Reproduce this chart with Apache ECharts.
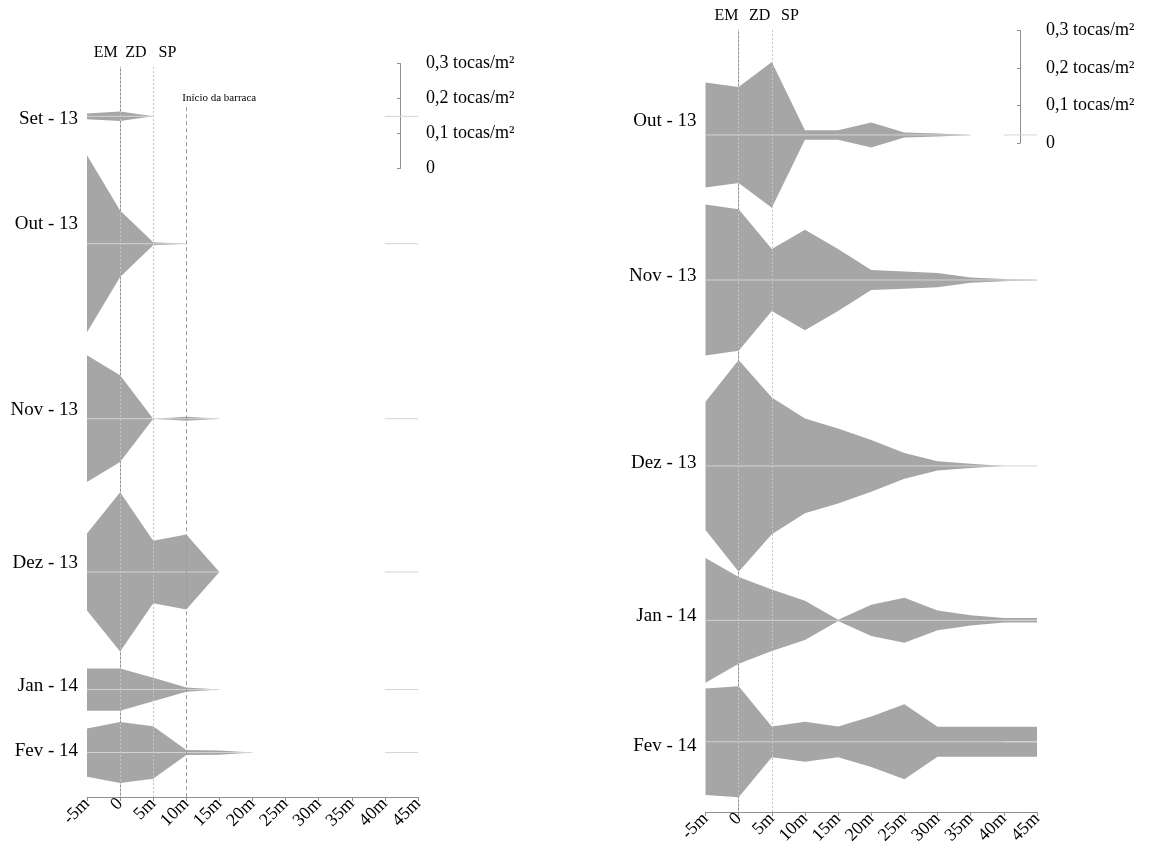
<!DOCTYPE html>
<html>
<head>
<meta charset="utf-8">
<script src="https://cdn.jsdelivr.net/npm/echarts@6/dist/echarts.min.js"></script>
<style>html,body{margin:0;padding:0;background:#fff;}#c{width:1153px;height:847px;}</style>
</head>
<body>
<div id="c"></div>
<script>
// ---------- DATA ----------
const distances = [-5, 0, 5, 10, 15, 20, 25, 30, 35, 40, 45];
const zoneLabels = ['EM', 'ZD', 'SP'];
const scaleTicks = [0, 0.1, 0.2, 0.3];
const barracaLabel = 'Início da barraca';
const barracaStart = 10;

// Left panel (Set-13 .. Fev-14), density width in tocas/m2 at each distance
const leftMonths = ['Set - 13', 'Out - 13', 'Nov - 13', 'Dez - 13', 'Jan - 14', 'Fev - 14'];
const leftSet13 = [0.016, 0.027, 0, 0, 0, 0, 0, 0, 0, 0, 0];
const leftOut13 = [0.506, 0.190, 0.009, 0, 0, 0, 0, 0, 0, 0, 0];
const leftNov13 = [0.362, 0.248, 0, 0.011, 0, 0, 0, 0, 0, 0, 0];
const leftDez13 = [0.220, 0.455, 0.179, 0.214, 0, 0, 0, 0, 0, 0, 0];
const leftJan14 = [0.121, 0.121, 0.067, 0.012, 0, 0, 0, 0, 0, 0, 0];
const leftFev14 = [0.138, 0.174, 0.150, 0.014, 0.012, 0, 0, 0, 0, 0, 0];

// Right panel (Out-13 .. Fev-14)
const rightMonths = ['Out - 13', 'Nov - 13', 'Dez - 13', 'Jan - 14', 'Fev - 14'];
const rightOut13 = [0.280, 0.256, 0.389, 0.025, 0.025, 0.067, 0.013, 0.008, 0, 0, 0];
const rightNov13 = [0.403, 0.378, 0.166, 0.268, 0.165, 0.053, 0.046, 0.038, 0.014, 0.006, 0];
const rightDez13 = [0.342, 0.565, 0.365, 0.253, 0.200, 0.138, 0.069, 0.025, 0.011, 0, 0];
const rightJan14 = [0.333, 0.231, 0.164, 0.105, 0.003, 0.083, 0.120, 0.053, 0.027, 0.012, 0.012];
const rightFev14 = [0.284, 0.296, 0.082, 0.107, 0.082, 0.135, 0.200, 0.080, 0.080, 0.080, 0.080];

// ---------- LAYOUT ----------
const Y_MAX = 2.086;
const leftBase = [1.945, 1.581, 1.081, 0.643, 0.307, 0.127];
const leftLabelPos = [1.936, 1.636, 1.107, 0.669, 0.316, 0.131];
const rightBase = [1.806, 1.419, 0.923, 0.511, 0.187];
const rightLabelPos = [1.844, 1.430, 0.932, 0.523, 0.175];
const leftZonePos = [-2.16, 2.4, 7.16];
const rightZonePos = [-1.83, 3.17, 7.74];
const barracaTop = 1.971;

const G = [
  {left: 87, top: 67, width: 331, height: 730},
  {left: 705.5, top: 30, width: 331.5, height: 782}
];
const LEG = [
  {right: 410, top: 63.5},
  {right: 1030, top: 30.7}
];

const FONT = '"Liberation Serif", "Times New Roman", "DejaVu Serif", serif';
const KITE = '#a6a6a6';
const BASE = '#d4d4d4';
const AXIS = '#8f8f8f';

const leftValues = [leftSet13, leftOut13, leftNov13, leftDez13, leftJan14, leftFev14];
const rightValues = [rightOut13, rightNov13, rightDez13, rightJan14, rightFev14];

function makeRender(values, bases) {
  return function (params, api) {
    const i = params.dataIndex;
    const v = values[i], b = bases[i];
    const top = distances.map((d, k) => api.coord([d, b + v[k] / 2]));
    const bot = distances.map((d, k) => api.coord([d, b - v[k] / 2])).reverse();
    const children = [{type: 'polygon', shape: {points: top.concat(bot)}, style: {fill: KITE}}];
    let last = -1;
    v.forEach((x, k) => { if (x > 0) last = k; });
    const endIdx = Math.min(last + 1, distances.length - 1);
    const p0 = api.coord([distances[0], b]), p1 = api.coord([distances[endIdx], b]);
    children.push({type: 'line', shape: {x1: p0[0], y1: p0[1], x2: p1[0], y2: p1[1]}, style: {stroke: BASE, lineWidth: 1}});
    const q0 = api.coord([distances[distances.length - 2], b]), q1 = api.coord([distances[distances.length - 1], b]);
    children.push({type: 'line', shape: {x1: q0[0], y1: q0[1], x2: q1[0], y2: q1[1]}, style: {stroke: BASE, lineWidth: 1}});
    return {type: 'group', children};
  };
}

function xAxisFor(gi) {
  return {
    type: 'value', gridIndex: gi, min: distances[0], max: distances[distances.length - 1], interval: 5,
    axisLine: {show: true, lineStyle: {color: AXIS, width: 1}},
    axisTick: {show: true, length: 4, lineStyle: {color: AXIS}},
    splitLine: {show: false},
    axisLabel: {rotate: 45, margin: 4, fontFamily: FONT, fontSize: 18, color: '#000',
      formatter: v => v === 0 ? '0' : v + 'm'}
  };
}
function yAxisFor(gi, labelPos, months) {
  return {
    type: 'value', gridIndex: gi, min: 0, max: Y_MAX,
    axisLine: {show: true, lineStyle: {color: AXIS, width: 1}},
    axisTick: {show: false},
    splitLine: {show: false},
    axisLabel: {
      customValues: labelPos, margin: 9, fontFamily: FONT, fontSize: 19, color: '#000',
      formatter: v => { const k = labelPos.findIndex(p => Math.abs(p - v) < 1e-6); return k >= 0 ? months[k] : ''; }
    }
  };
}
function legGrid(k) {
  const h = 0.3 / Y_MAX * G[k].height;
  return {left: LEG[k].right - 10, width: 10, top: LEG[k].top, height: h};
}
function legY(gi) {
  return {
    type: 'value', gridIndex: gi, position: 'right', min: 0, max: 0.3, interval: 0.1,
    axisLine: {show: true, lineStyle: {color: AXIS, width: 1}},
    axisTick: {show: true, inside: true, length: 3, lineStyle: {color: AXIS}},
    splitLine: {show: false},
    axisLabel: {margin: 16, fontFamily: FONT, fontSize: 18, color: '#000',
      formatter: v => v === 0 ? '0' : v.toFixed(1).replace('.', ',') + ' tocas/m²'}
  };
}
function hiddenX(gi) {
  return {type: 'value', gridIndex: gi, min: 0, max: 1, show: false};
}

const dotted = {color: '#c6c6c6', width: 1, type: [2, 2]};

const option = {
  animation: false,
  backgroundColor: '#fff',
  grid: [
    Object.assign({containLabel: false}, G[0]),
    Object.assign({containLabel: false}, G[1]),
    legGrid(0), legGrid(1)
  ],
  xAxis: [xAxisFor(0), xAxisFor(1), hiddenX(2), hiddenX(3)],
  yAxis: [yAxisFor(0, leftLabelPos, leftMonths), yAxisFor(1, rightLabelPos, rightMonths), legY(2), legY(3)],
  series: [
    {
      type: 'line', xAxisIndex: 0, yAxisIndex: 0, data: [], silent: true, z: 1,
      markLine: {
        silent: true, symbol: 'none', label: {show: false},
        data: [
          {xAxis: 0, lineStyle: dotted},
          {xAxis: 5, lineStyle: dotted},
          [{coord: [barracaStart, barracaTop], lineStyle: {color: '#9a9a9a', width: 1, type: [4, 3]}}, {coord: [barracaStart, 0]}]
        ]
      }
    },
    {
      type: 'line', xAxisIndex: 1, yAxisIndex: 1, data: [], silent: true, z: 1,
      markLine: {
        silent: true, symbol: 'none', label: {show: false},
        data: [{xAxis: 0, lineStyle: dotted}, {xAxis: 5, lineStyle: dotted}]
      }
    },
    {
      type: 'custom', xAxisIndex: 0, yAxisIndex: 0, z: 3, silent: true,
      renderItem: makeRender(leftValues, leftBase),
      encode: {x: 0, y: 1},
      data: leftBase.map(b => [distances[0], b])
    },
    {
      type: 'custom', xAxisIndex: 1, yAxisIndex: 1, z: 3, silent: true,
      renderItem: makeRender(rightValues, rightBase),
      encode: {x: 0, y: 1},
      data: rightBase.map(b => [distances[0], b])
    },
    {type: 'line', xAxisIndex: 2, yAxisIndex: 2, data: [], silent: true},
    {type: 'line', xAxisIndex: 3, yAxisIndex: 3, data: [], silent: true}
  ]
};

const chart = echarts.init(document.getElementById('c'), null, {renderer: 'canvas'});
chart.setOption(option);

const graphics = [];
[[0, leftZonePos], [1, rightZonePos]].forEach(([gi, pos]) => {
  pos.forEach((p, k) => {
    const px = chart.convertToPixel({xAxisIndex: gi, yAxisIndex: gi}, [p, Y_MAX]);
    graphics.push({type: 'text', silent: true, style: {
      text: zoneLabels[k], x: px[0], y: px[1] - 14, fontFamily: FONT, fontSize: 16, fill: '#000',
      textAlign: 'center', textVerticalAlign: 'middle'}});
  });
});
const bp = chart.convertToPixel({xAxisIndex: 0, yAxisIndex: 0}, [barracaStart, barracaTop]);
graphics.push({type: 'text', silent: true, style: {
  text: barracaLabel, x: bp[0] - 4, y: bp[1] - 9, fontFamily: FONT, fontSize: 11, fill: '#000',
  textAlign: 'left', textVerticalAlign: 'middle'}});
chart.setOption({graphic: graphics});
</script>
</body>
</html>
